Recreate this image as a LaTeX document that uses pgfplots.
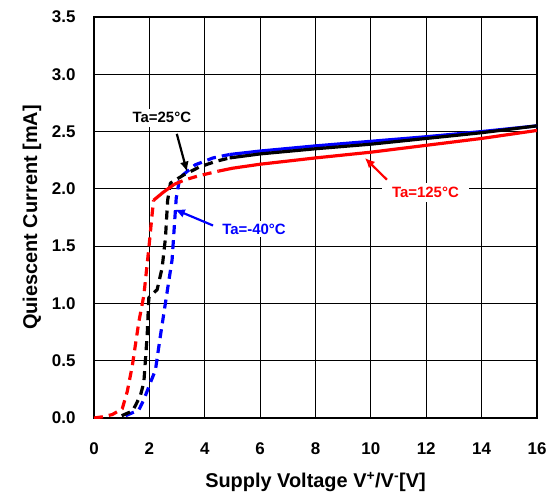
\documentclass[border=0pt]{standalone}
\usepackage{fontspec}
\setmainfont{Liberation Sans}
\usepackage{pgfplots}
\pgfplotsset{compat=1.18}
\usetikzlibrary{arrows.meta}

\begin{document}
\begin{tikzpicture}
\path[use as bounding box] (-94bp,-80bp) rectangle (457bp,418bp);
\begin{axis}[
  at={(0,0)}, anchor=south west,
  width=443bp, height=401bp, scale only axis,
  xmin=0, xmax=16, ymin=0, ymax=3.5,
  xtick={0,2,...,16}, ytick={0,0.5,...,3.5},
  grid=major, major grid style={black, line width=0.8pt},
  axis line style={line width=1.6pt},
  tick style={draw=none},
  /pgf/number format/assume math mode=true,
  ticklabel style={font=\bfseries\fontsize{17}{17}\selectfont},
  yticklabel style={/pgf/number format/fixed, /pgf/number format/fixed zerofill,
    /pgf/number format/precision=1, xshift=-15bp},
  xticklabel style={yshift=-21bp},
  xlabel={Supply Voltage V\textsuperscript{+}/V\textsuperscript{-}[V]},
  ylabel={Quiescent Current [mA]},
  label style={font=\bfseries\fontsize{20}{20}\selectfont},
  xlabel style={at={(axis description cs:0.5,-0.16)}, anchor=center},
  ylabel style={at={(axis description cs:-0.14,0.5)}, anchor=center},
  every axis plot/.append style={line width=3.2pt, line join=round},
  dashes/.style={dash pattern=on 9bp off 6bp},
]

% Ta=-40C (blue)
\addplot[blue, dashes] coordinates {
  (1.14,0.02) (1.62,0.07) (1.8,0.16) (2.04,0.31) (2.22,0.42) (2.4,0.72)
  (2.66,1.13) (2.82,1.38) (2.9,1.67) (2.97,1.92) (3.1,2.1) (3.66,2.21)
  (4.3,2.27) (4.9,2.30)
};
\addplot[blue] coordinates {
  (4.9,2.30) (6,2.33) (8,2.375) (10,2.415) (12,2.455) (14,2.5) (16,2.55)
};

% Ta=25C (black)
\addplot[black, dashes] coordinates {
  (1.0,0.02) (1.38,0.06) (1.5,0.11) (1.68,0.2) (1.8,0.31) (1.92,0.72)
  (1.98,1.05) (2.1,1.08) (2.28,1.12) (2.46,1.31) (2.58,1.57) (2.66,1.9)
  (2.76,2.05) (3.23,2.12) (3.8,2.19) (4.4,2.24) (4.9,2.27)
};
\addplot[black] coordinates {
  (4.9,2.27) (6,2.305) (8,2.35) (10,2.39) (12,2.44) (14,2.49) (16,2.55)
};

% Ta=125C (red)
\addplot[red, dashes] coordinates {
  (0,0.0) (0.3,0.01) (0.66,0.03) (1.02,0.08) (1.2,0.23) (1.38,0.45)
  (1.62,0.84) (1.8,1.07) (1.98,1.48) (2.1,1.78) (2.15,1.9)
};
\addplot[red] coordinates {
  (2.15,1.9) (2.5,1.97) (2.9,2.04)
};
\addplot[red, dashes] coordinates {
  (2.9,2.04) (3.3,2.08) (3.8,2.115) (4.5,2.155)
};
\addplot[red] coordinates {
  (4.5,2.155) (5,2.18) (6,2.215) (8,2.27) (10,2.32) (12,2.38) (14,2.44) (16,2.51)
};

% annotations
\node[fill=white, inner xsep=6bp, inner ysep=4bp,
  font=\bfseries\fontsize{15}{15}\selectfont] at (axis cs:2.45,2.62) {Ta=25°C};
\draw[black, line width=2.2pt, -{Latex[length=10bp,width=9bp]}]
  (axis cs:2.99,2.48) -- (axis cs:3.36,2.15);

\node[fill=white, inner sep=3bp, text=blue,
  font=\bfseries\fontsize{15}{15}\selectfont] at (axis cs:5.78,1.65) {Ta=-40°C};
\draw[blue, line width=2.2pt, -{Latex[length=10bp,width=9bp]}]
  (axis cs:4.3,1.68) -- (axis cs:2.92,1.82);

\node[fill=white, inner xsep=10bp, inner ysep=4bp, text=red,
  font=\bfseries\fontsize{15}{15}\selectfont] at (axis cs:11.97,1.97) {Ta=125°C};
\draw[red, line width=2.2pt, -{Latex[length=10bp,width=9bp]}]
  (axis cs:10.58,2.08) -- (axis cs:9.78,2.27);
\end{axis}
\end{tikzpicture}
\end{document}
